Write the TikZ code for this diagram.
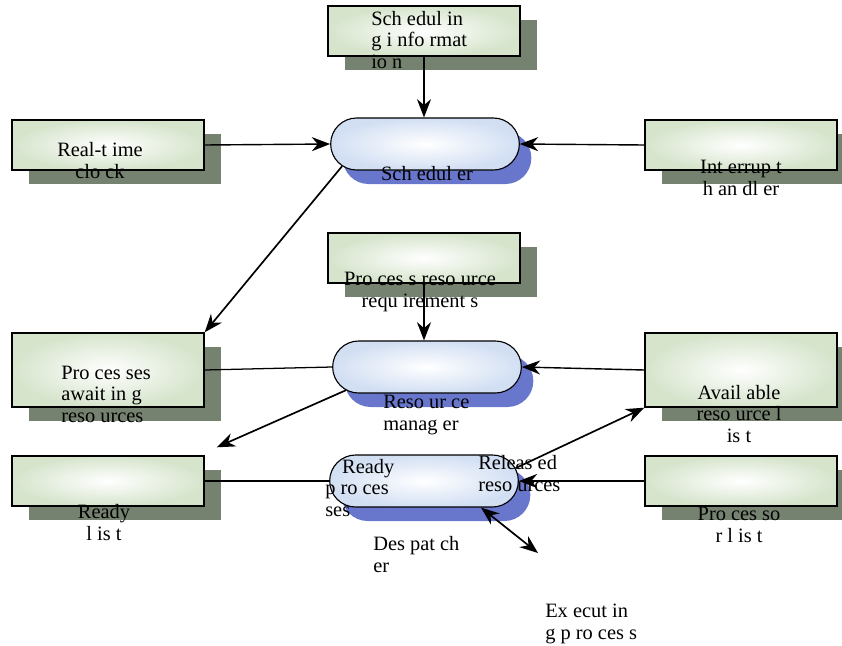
\documentclass[tikz,border=0pt]{standalone}
\usepackage{fontspec}
\setmainfont{Liberation Serif}
\usetikzlibrary{shapes.misc,shadows,arrows.meta}
\definecolor{boxgreen}{RGB}{214,228,204}
\definecolor{boxshade}{RGB}{118,130,112}
\definecolor{pillblue}{RGB}{210,223,243}
\definecolor{pillshade}{RGB}{104,118,204}
\begin{document}
\begin{tikzpicture}[x=0.025cm,y=-0.025cm,>={Stealth[length=13pt,width=10pt]},
    box/.style={rectangle,draw,line width=1pt,inner color=white,outer color=boxgreen,
      minimum width=4.8cm,minimum height=1.25cm,
      drop shadow={shadow xshift=0.43cm,shadow yshift=-0.35cm,fill=boxshade,opacity=1}},
    pill/.style={rounded rectangle,draw,line width=0.8pt,inner color=white,outer color=pillblue,
      minimum width=4.95cm,minimum height=1.3cm,
      drop shadow={shadow xshift=0.3cm,shadow yshift=-0.35cm,fill=pillshade,opacity=1}},
    txt/.style={font=\fontsize{14.5}{15}\selectfont,inner sep=0pt}]
    \useasboundingbox (0,0) rectangle (842,645);
    % boxes
    \node[box] (schedinfo) at (424,31) {};
    \node[box] (clock) at (108,145) {};
    \node[box] (handler) at (741,145) {};
    \node[box] (reqs) at (424,258) {};
    \node[box,minimum height=1.85cm] (awaiting) at (108,370) {};
    \node[box,minimum height=1.85cm] (avail) at (741,370) {};
    \node[box] (ready) at (108,481) {};
    \node[box] (proclist) at (741,481) {};
    % pills
    \node[pill] (sched) at (425,144) {};
    \node[pill] (resmgr) at (427,367) {};
    \node[pill] (disp) at (424,481) {};
    % labels (anchored at the baseline of the last line)
    \node[txt,anchor=base west,align=left] (schedinfo-t) at (371,68) {Sch edul in\\g i nfo rmat\\io n};
    \node[txt,anchor=base,align=center] (clock-t) at (100,178) {Real-t ime\\clo ck};
    \node[txt,anchor=base,align=center] (handler-t) at (741,195) {Int errup t\\h an dl er};
    \node[txt,anchor=base,align=center] (reqs-t) at (420,307) {Pro ces s reso urce\\requ irement s};
    \node[txt,anchor=base west,align=left] (awaiting-t) at (61,422) {Pro ces ses\\await in g\\reso urces};
    \node[txt,anchor=base,align=center] (avail-t) at (739,442) {Avail able\\reso urce l\\is t};
    \node[txt,anchor=base,align=center] (ready-t) at (104,540) {Ready\\l is t};
    \node[txt,anchor=base,align=center] (proclist-t) at (739,542) {Pro ces so\\r l is t};
    \node[txt,anchor=base] (sched-t) at (427,180) {Sch edul er};
    \node[txt,anchor=base west,align=left] (resmgr-t) at (383,430) {Reso ur ce\\manag er};
    \node[txt,anchor=base west,align=left] (readyproc-t) at (325,516) {\hspace*{12pt}Ready\\p ro ces\\ses};
    \node[txt,anchor=base west,align=left] (released-t) at (478,491) {Releas ed\\reso urces};
    \node[txt,anchor=base west,align=left] (disp-t) at (373,572) {Des pat ch\\er};
    \node[txt,anchor=base west,align=left] (exec-t) at (545,639) {Ex ecut in\\g p ro ces s};
    \coordinate (execpt) at (538,553);
    % arrows
    \draw[->,line width=1.2pt] (schedinfo.south) -- (schedinfo.south |- sched.north);
    \draw[->,line width=1pt] (clock.east) -- (sched.west);
    \draw[->,line width=1pt] (handler.west) -- (sched.east);
    \draw[->,line width=1.2pt] (sched.-165) -- (awaiting.north east);
    \draw[->,line width=1.2pt] (reqs.south) -- (reqs.south |- resmgr.north);
    \draw[line width=0.9pt] (awaiting.east) -- (resmgr.west);
    \draw[->,line width=1pt] (avail.west) -- (resmgr.east);
    \draw[->,line width=1.2pt] (resmgr.-164) -- ([xshift=0.3cm,yshift=0.2cm]ready.north east);
    \draw[line width=0.9pt] (ready.east) -- (disp.west);
    \draw[->,line width=1.2pt] (proclist.west) -- (disp.east);
    \draw[->,line width=1.2pt] (disp.8) -- (avail.south west);
    \draw[<->,line width=1.2pt] (disp.-25) -- (execpt);
\end{tikzpicture}
\end{document}
